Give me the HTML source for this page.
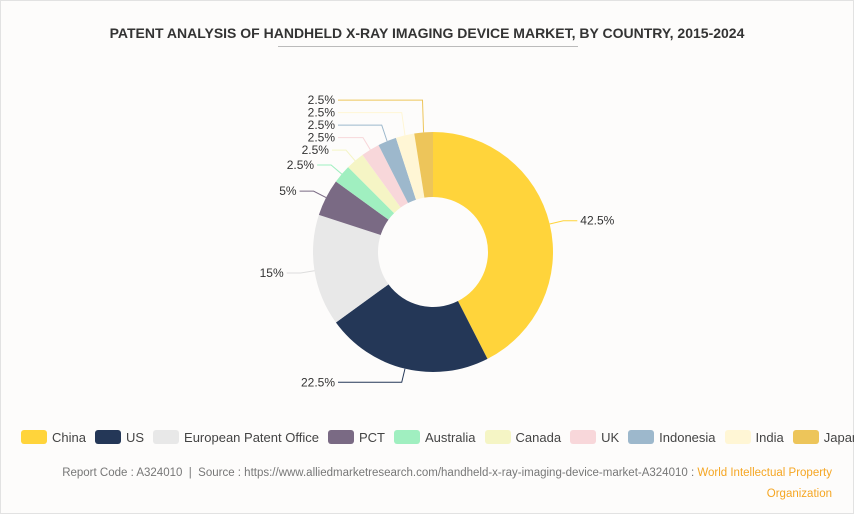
<!DOCTYPE html>
<html><head><meta charset="utf-8"><style>
body{margin:0;background:#fff;font-family:"Liberation Sans",sans-serif}
#wrap{position:relative;width:852px;height:512px;border:1px solid #e2e2e2;background:#fdfcfb}
#title{position:absolute;top:24px;left:0;width:852px;text-align:center;font-weight:bold;font-size:14px;color:#333}
#uline{position:absolute;top:45px;left:277px;width:300px;height:1px;background:#bbb}
#legend{position:absolute;top:429px;left:20px;font-size:13px;color:#444;white-space:nowrap}
.li{display:inline-block;margin-right:9px}
.sw{display:inline-block;width:26px;height:14px;border-radius:3px;vertical-align:-2px;margin-right:5px}
#foot{position:absolute;top:462px;right:21px;text-align:right;font-size:11.5px;color:#777;line-height:21px}
#foot span{color:#f5a623}
</style></head><body>
<div id="wrap">
<div id="title">PATENT ANALYSIS OF HANDHELD X-RAY IMAGING DEVICE MARKET, BY COUNTRY, 2015-2024</div>
<div id="uline"></div>
<svg id="svg" width="852" height="420" style="position:absolute;left:0;top:0"></svg>
<div id="legend"></div>
<div id="foot">Report Code : A324010 &nbsp;|&nbsp; Source : https://www.alliedmarketresearch.com/handheld-x-ray-imaging-device-market-A324010 : <span>World Intellectual Property</span><br><span>Organization</span></div>
</div>
<script>
const categories=["China","US","European Patent Office","PCT","Australia","Canada","UK","Indonesia","India","Japan"];
const values=[42.5,22.5,15,5,2.5,2.5,2.5,2.5,2.5,2.5];
const colors=["#FFD43B","#243757","#E8E8E8","#7A6A84","#A0EFC0","#F5F5C5","#F8D7DA","#9DB8CC","#FFF6D5","#EDC55A"];
const svg=document.getElementById('svg');const NS="http://www.w3.org/2000/svg";
const cx=432,cy=251,R=120,r=55;
const total=values.reduce((a,b)=>a+b,0);
function pt(a,rad){return [cx+rad*Math.sin(a),cy-rad*Math.cos(a)];}
let a0=0;const labels=[];
values.forEach((v,i)=>{
 const a1=a0+v/total*2*Math.PI;
 const [x1,y1]=pt(a0,R),[x2,y2]=pt(a1,R),[x3,y3]=pt(a1,r),[x4,y4]=pt(a0,r);
 const lg=(a1-a0)>Math.PI?1:0;
 const p=document.createElementNS(NS,'path');
 p.setAttribute('d',`M${x1},${y1}A${R},${R} 0 ${lg} 1 ${x2},${y2}L${x3},${y3}A${r},${r} 0 ${lg} 0 ${x4},${y4}Z`);
 p.setAttribute('fill',colors[i]);
 
 
 svg.appendChild(p);
 const m=(a0+a1)/2;labels.push({i,m,s:pt(m,R),e:pt(m,R+14),right:Math.sin(m)>=0});
 a0=a1;});
// resolve left-side overlaps (sorted bottom to top)
const left=labels.filter(l=>!l.right).sort((a,b)=>b.e[1]-a.e[1]);
for(let k=1;k<left.length;k++){if(left[k].e[1]>left[k-1].e[1]-12.5)left[k].e[1]=left[k-1].e[1]-12.5;}
labels.forEach(l=>{
 const dir=l.right?1:-1;const ex=l.e[0]+dir*(l.right?14:Math.max(14,l.e[0]-(cx-95)));
 const pl=document.createElementNS(NS,'polyline');
 pl.setAttribute('points',`${l.s[0]},${l.s[1]} ${l.e[0]},${l.e[1]} ${ex},${l.e[1]}`);
 pl.setAttribute('fill','none');pl.setAttribute('stroke',colors[l.i]==="#E8E8E8"?"#ddd":colors[l.i]);pl.setAttribute('stroke-width','1');
 
 
 svg.appendChild(pl);
 const t=document.createElementNS(NS,'text');
 t.setAttribute('x',ex+dir*3);t.setAttribute('y',l.e[1]+4);
 t.setAttribute('text-anchor',l.right?'start':'end');t.setAttribute('font-size','12');t.setAttribute('fill','#333');
 t.setAttribute('font-family','Liberation Sans, sans-serif');
 t.textContent=values[l.i]+'%';
 
 
 svg.appendChild(t);});
const lg=document.getElementById('legend');
categories.forEach((c,i)=>{const d=document.createElement('span');d.className='li';
 
 
 d.innerHTML=`<span class="sw" style="background:${colors[i]}"></span>${c}`;lg.appendChild(d);});
</script>
</body></html>
